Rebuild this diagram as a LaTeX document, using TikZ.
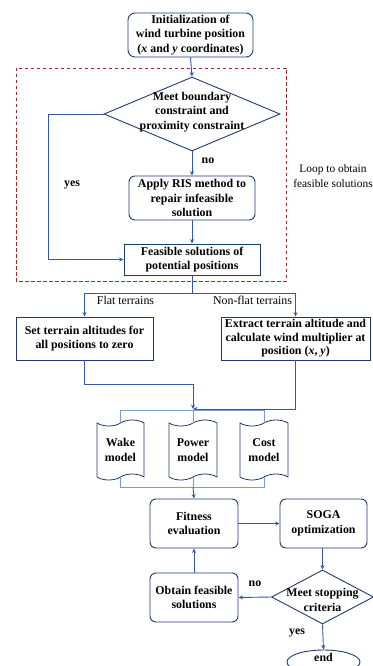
\documentclass[tikz,border=0pt]{standalone}
\usepackage{fontspec}
\setmainfont{Liberation Serif}
\usetikzlibrary{shapes.geometric,shapes.symbols,arrows.meta}
\definecolor{boxc}{HTML}{22396E}
\definecolor{arrc}{HTML}{3557A6}
\definecolor{ltc}{HTML}{7E9CD2}
\definecolor{redc}{HTML}{9A2B2B}
\begin{document}
\begin{tikzpicture}[x=1pt,y=-1pt,
  txt/.style={font=\bfseries\fontsize{11.9}{14.5}\selectfont, align=center, inner sep=0pt},
  reg/.style={font=\fontsize{11.9}{15}\selectfont, align=center, inner sep=0pt},
  box/.style={txt, draw=boxc, line width=0.9pt},
  rbox/.style={box, rounded corners=6pt},
  dia/.style={diamond, draw=boxc, line width=0.9pt, inner sep=0pt},
  doc/.style={tape, draw=boxc, line width=0.8pt, txt, tape bend height=6pt},
  arr/.style={draw=arrc, line width=0.9pt, -{Stealth[length=4.5pt,width=4pt]}},
  ln/.style={draw=arrc, line width=0.9pt},
  lt/.style={draw=ltc, line width=0.7pt}]
\useasboundingbox (0,0) rectangle (372,666);

% nodes
\node[rbox, minimum width=125pt, minimum height=44pt, rounded corners=7pt] (init) at (190.5,35)
  {Initialization of\\wind turbine position\\(\textit{x} and \textit{y} coordinates)};
\draw[redc, line width=0.8pt, dash pattern=on 3.5pt off 2.5pt] (16,68) rectangle (286,281);
\node[dia, minimum width=176pt, minimum height=74pt] (d1) at (192,114) {};
\node[txt] (d1t) at (192,112) {Meet boundary\\constraint and\\proximity constraint};
\node[rbox, minimum width=126pt, minimum height=44pt] (ris) at (192,198)
  {Apply RIS method to\\repair infeasible\\solution};
\node[box, minimum width=136pt, minimum height=31pt] (feas) at (192,259.5)
  {Feasible solutions of\\potential positions};
\node[reg, font=\fontsize{11.4}{15}\selectfont] (loop) at (333,176) {Loop to obtain\\feasible solutions};
\node[txt] (yes1) at (72,185) {yes};
\node[txt] (no1) at (208,161) {no};

\node[box, minimum width=137pt, minimum height=43pt] (flat) at (84.5,338.5)
  {Set terrain altitudes for\\all positions to zero};
\node[box, minimum width=149pt, minimum height=43pt, font=\bfseries\fontsize{11.9}{13.5}\selectfont] (nonflat) at (295.5,338.5)
  {Extract terrain altitude and\\calculate wind multiplier at\\position (\textit{x}, \textit{y})};
\node[reg] (flatl) at (125.5,300) {Flat terrains};
\node[reg] (nonflatl) at (252.5,300) {Non-flat terrains};

\node[doc, minimum width=47pt, minimum height=60pt] (wake) at (120.5,450) {Wake\\model};
\node[doc, minimum width=48pt, minimum height=60pt] (power) at (193,450) {Power\\model};
\node[doc, minimum width=48pt, minimum height=60pt] (cost) at (264,450) {Cost\\model};

\node[rbox, minimum width=88pt, minimum height=49pt] (fit) at (194,523.5) {Fitness\\evaluation};
\node[rbox, minimum width=87pt, minimum height=49pt] (soga) at (323.5,523.5) {SOGA\\optimization};
\node[dia, minimum width=102pt, minimum height=54pt] (d2) at (322.5,597) {};
\node[txt] (d2t) at (322.5,600) {Meet stopping\\criteria};
\node[rbox, minimum width=88pt, minimum height=49pt] (obt) at (194,597.5) {Obtain feasible\\solutions};
\node[txt] (no2) at (255,584) {no};
\node[txt] (yes2) at (297,633) {yes};
\node[ellipse, draw=boxc, line width=0.9pt, minimum width=73pt, minimum height=24pt] (end) at (323.5,662) {};
\node[txt] (endt) at (323.5,657) {end};

% connectors
\draw[arr] (init.south) -- (d1.north);
\draw[arr] (d1.south) -- (ris.north);
\draw[arr] (ris.south) -- (feas.north);
\draw[arr] (d1.west) -- ++(-55,0) |- (feas.west);

\coordinate (sp) at (192,293);
\draw[ln] (feas.south) -- (sp);
\draw[arr] (sp) -| (flat.north);
\draw[arr] (sp) -| (nonflat.north);

\coordinate (m) at (193,409);
\draw[arr] (flat.south) -- ++(0,24) -| (m);
\draw[arr] (nonflat.south) |- (m);

\coordinate (bt) at (193,410);
\coordinate (bb) at (193,487);
\draw[lt] (wake.north) -- (wake.north |- bt) -- (cost.north |- bt) -- (cost.north);
\draw[lt] (bt) -- (power.north);
\draw[lt] (wake.south) -- (wake.south |- bb) -- (cost.south |- bb) -- (cost.south);
\draw[lt] (power.south) -- (bb);
\draw[arr] (bb) -- (fit.north);

\draw[arr] (fit.east) -- (soga.west);
\draw[arr] (soga.south -| d2.north) -- (d2.north);
\draw[arr] (d2.west) -- (obt.east);
\draw[arr] (obt.north) -- (fit.south);
\draw[arr] (d2.south) -- (end.north);
\end{tikzpicture}
\end{document}
